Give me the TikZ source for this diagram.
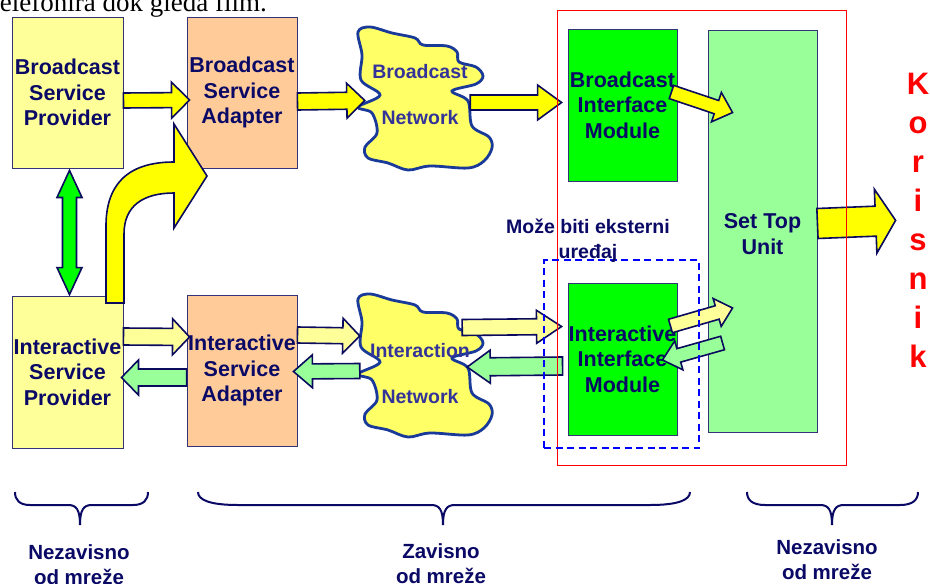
\documentclass[tikz,border=0pt]{standalone}
\usepackage{fontspec}
\setmainfont{Liberation Sans}
\newfontfamily\serifface{Liberation Serif}
\usetikzlibrary{calc}

\definecolor{navy}{HTML}{0A0A66}
\definecolor{boxline}{HTML}{333377}
\definecolor{arrline}{HTML}{0A0A5E}
\definecolor{cloudline}{HTML}{1A3A99}
\definecolor{cloudfill}{HTML}{FFFF66}
\definecolor{cloudtext}{HTML}{333399}
\definecolor{paleyellow}{HTML}{FFFF99}
\definecolor{peach}{HTML}{FFCC99}
\definecolor{brightgreen}{HTML}{00FF00}
\definecolor{palegreen}{HTML}{99FF99}
\definecolor{strongyellow}{HTML}{FFFF00}
\definecolor{framered}{HTML}{FF0000}
\definecolor{dashblue}{HTML}{0000FF}

\tikzset{
  unitbox/.style={draw=boxline, line width=0.9pt, inner sep=0pt, align=center,
    text=navy, font=\fontsize{21.5}{25.5}\selectfont\bfseries},
  unittext/.style={inner sep=0pt, align=center, text=navy,
    font=\fontsize{21.5}{25.5}\selectfont\bfseries},
  cloudshape/.style={fill=cloudfill, draw=cloudline, line width=2.8pt},
  cloudlabel/.style={text=cloudtext, align=center, inner sep=0pt,
    font=\fontsize{19.5}{46}\selectfont\bfseries},
  arrowbase/.style={draw=arrline, line width=1.6pt, line join=miter},
  solidarrow/.style={arrowbase, fill=strongyellow},
  uparrow/.style={arrowbase, fill=paleyellow},
  downarrow/.style={arrowbase, fill=palegreen},
  linkarrow/.style={arrowbase, fill=brightgreen},
  bracket/.style={draw=navy, line width=2pt},
  zonelabel/.style={text=navy, align=center, inner sep=0pt,
    font=\fontsize{20.5}{25}\selectfont\bfseries},
}

% block arrow: style, from, to, shaft half width, head half width, head length
\newcommand\blockarrow[6]{%
  \coordinate (bam) at ($(#3)!#6!(#2)$);
  \filldraw[#1] ($(#2)!#4!90:(#3)$) -- ($(bam)!#4!90:(#3)$) -- ($(bam)!#5!90:(#3)$)
    -- (#3) -- ($(bam)!#5!-90:(#3)$) -- ($(bam)!#4!-90:(#3)$)
    -- ($(#2)!#4!-90:(#3)$) -- cycle;}

% block arrow with a head at each end
\newcommand\doublearrow[6]{%
  \coordinate (dam) at ($(#2)!#6!(#3)$);
  \coordinate (dan) at ($(#3)!#6!(#2)$);
  \filldraw[#1] (#2) -- ($(dam)!#5!90:(#3)$) -- ($(dam)!#4!90:(#3)$)
    -- ($(dan)!#4!90:(#3)$) -- ($(dan)!#5!90:(#3)$) -- (#3)
    -- ($(dan)!#5!-90:(#3)$) -- ($(dan)!#4!-90:(#3)$)
    -- ($(dam)!#4!-90:(#3)$) -- ($(dam)!#5!-90:(#3)$) -- cycle;}

% irregular network cloud, shifted vertically
\newcommand\networkblob[1]{%
  \filldraw[cloudshape, shift={(0,#1)}] plot[smooth cycle, tension=0.55] coordinates {
    (358,32) (370,27) (392,33) (415,38) (423,45) (447,46) (457,52) (459,62)
    (476,67) (483,76) (476,84) (452,91) (468,101) (472,126) (489,137)
    (492,148) (484,161) (468,168) (430,166) (408,170) (388,163) (368,158)
    (365,147) (377,133) (372,113) (358,107) (380,95) (361,80) (362,55)};}

% curly brace under a group of blocks: left, right, middle, corner radius
\newcommand\zonebrace[4]{%
  \draw[bracket] (#1,492) .. controls (#1,500) and ({#1+#4*0.3},505) .. ({#1+#4},505)
    -- ({#3-12},505) .. controls ({#3-4},505) and (#3,509) .. (#3,525)
    .. controls (#3,509) and ({#3+4},505) .. ({#3+12},505)
    -- ({#2-#4},505) .. controls ({#2-#4*0.3},505) and (#2,500) .. (#2,492);}

\begin{document}
\begin{tikzpicture}[x=1pt, y=-1pt]
\useasboundingbox (0,0) rectangle (930,584);
\clip (0,0) rectangle (930,584);
\fill[white] (0,0) rectangle (930,584);

% heading line of the page above
\node[anchor=base east, inner sep=0pt, font=\serifface\fontsize{27}{27}\selectfont] (topline)
  at (267,11) {telefonira dok gleda film.};

% service blocks
\node[unitbox, fill=paleyellow, minimum width=111pt, minimum height=151pt] (bsp) at (67.5,92.5) {Broadcast\\Service\\Provider};
\node[unitbox, fill=peach, minimum width=110pt, minimum height=151pt] (bsa) at (242,92.5) {Broadcast\\Service\\Adapter};
\node[unitbox, fill=paleyellow, minimum width=111pt, minimum height=152pt] (isp) at (67.5,372) {Interactive\\Service\\Provider};
\node[unitbox, fill=peach, minimum width=110pt, minimum height=151pt] (isa) at (242,370.5) {Interactive\\Service\\Adapter};

% terminal blocks
\node[unitbox, fill=brightgreen, minimum width=109pt, minimum height=152pt] (bim) at (622.5,105) {Broadcast\\Interface\\Module};
\node[unitbox, fill=brightgreen, minimum width=109pt, minimum height=152pt] (iim) at (622.5,359) {Interactive\\Interface\\Module};
\node[unitbox, fill=palegreen, minimum width=109pt, minimum height=402pt,
  label={[unittext, yshift=-3pt]center:{Set Top\\Unit}}] (stu) at (762.5,231) {};

% networks
\networkblob{0}
\node[cloudlabel, minimum width=136pt, minimum height=150pt] (bn) at (420,94.5) {Broadcast\\Network};
\networkblob{267}
\node[cloudlabel, minimum width=136pt, minimum height=146pt] (in) at (420,373.5) {Interaction\\Network};

% user column
\node[anchor=north, inner sep=0pt, text=framered, align=center,
  font=\fontsize{31}{39}\selectfont\bfseries] (user) at (918,73) {K\\o\\r\\i\\s\\n\\i\\k};

% arrow end points
\coordinate (a1s) at ($(bsp.east)+(0,8)$);
\coordinate (a1e) at ($(bsa.west)+(3,7.5)$);
\coordinate (a2s) at ($(bsa.east)+(0,9)$);
\coordinate (a2e) at ($(bn.west)+(13,6)$);
\coordinate (a3s) at ($(bn.east)+(-18,8)$);
\coordinate (a3e) at ($(bim.west)+(-6,-2.5)$);
\coordinate (a4s) at ($(bim.east)+(-6,-13)$);
\coordinate (a4e) at ($(stu.north west)+(25,83)$);
\coordinate (a5s) at ($(stu.east)+(0,-7.5)$);
\coordinate (a5e) at ($(user.west)+(-11,0)$);
\coordinate (b1s) at ($(isp.east)+(0,-35.5)$);
\coordinate (b1e) at ($(isa.west)+(3,-33.5)$);
\coordinate (b2s) at ($(isa.west)+(0,7)$);
\coordinate (b2e) at ($(isp.east)+(-2,5.5)$);
\coordinate (b3s) at ($(isa.east)+(0,-35.5)$);
\coordinate (b3e) at ($(in.west)+(8,-37.5)$);
\coordinate (b4s) at ($(in.west)+(8,-2.5)$);
\coordinate (b4e) at ($(isa.east)+(-4,1)$);
\coordinate (b5s) at ($(in.east)+(-26,-46)$);
\coordinate (b5e) at ($(iim.west)+(-6,-32.5)$);
\coordinate (b6s) at ($(iim.west)+(-5,7)$);
\coordinate (b6e) at ($(in.east)+(-21,-6.5)$);
\coordinate (b7s) at ($(iim.east)+(-7,-33)$);
\coordinate (b7e) at ($(stu.west)+(25,77)$);
\coordinate (b8s) at ($(stu.west)+(15,112)$);
\coordinate (b8e) at ($(iim.east)+(-15,1)$);
\coordinate (lka) at ($(bsp.south)+(2,2)$);
\coordinate (lkb) at ($(isp.north)+(2,-1)$);

% broadcast chain
\blockarrow{solidarrow}{a1s}{a1e}{7.5pt}{18pt}{18pt}
\blockarrow{solidarrow}{a2s}{a2e}{8.5pt}{17.5pt}{18pt}
\blockarrow{solidarrow}{a3s}{a3e}{7.5pt}{17.5pt}{24pt}
\blockarrow{solidarrow}{a4s}{a4e}{7pt}{15.5pt}{17pt}
\blockarrow{solidarrow}{a5s}{a5e}{15pt}{32pt}{20pt}

% interaction chain, both directions
\blockarrow{uparrow}{b1s}{b1e}{8.5pt}{18pt}{17pt}
\blockarrow{downarrow}{b2s}{b2e}{8.5pt}{17.5pt}{17pt}
\blockarrow{uparrow}{b3s}{b3e}{8pt}{17.5pt}{17pt}
\blockarrow{downarrow}{b4s}{b4e}{7.5pt}{16.5pt}{19pt}
\blockarrow{uparrow}{b5s}{b5e}{8pt}{16.5pt}{25pt}
\blockarrow{downarrow}{b6s}{b6e}{9pt}{16.5pt}{23pt}
\blockarrow{uparrow}{b7s}{b7e}{7pt}{14.5pt}{16pt}
\blockarrow{downarrow}{b8s}{b8e}{7pt}{15pt}{17pt}

% link between the two providers
\doublearrow{linkarrow}{lka}{lkb}{7pt}{12.5pt}{27pt}

% bent arrow from the interactive provider into the broadcast adapter
\filldraw[solidarrow] (106,303) -- (106,226) .. controls (106,186) and (126,162) .. (174,162)
  -- (174,124) -- (207,176) -- (174,228) -- (174,193)
  .. controls (143,193) and (124,206) .. (124,234) -- (124,303) -- cycle;

% receiver frame and optional external device
\node[draw=framered, line width=0.8pt, inner sep=0pt, minimum width=289pt, minimum height=455pt] (terminal) at (701.5,237.5) {};
\node[draw=dashblue, line width=1.8pt, dash pattern=on 7pt off 4.5pt, inner sep=0pt,
  minimum width=155pt, minimum height=188pt] (external) at (621.5,354) {};
\node[zonelabel, font=\fontsize{19.5}{25}\selectfont\bfseries] (extnote) at (588,240.5) {Može biti eksterni\\uređaj};

% network dependence groups
\zonebrace{15}{148}{80}{15}
\zonebrace{198}{690}{443}{40}
\zonebrace{747}{918}{832}{18}
\node[zonelabel] (zone1) at (79,564.5) {Nezavisno\\od mreže};
\node[zonelabel] (zone2) at (441,563.5) {Zavisno\\od mreže};
\node[zonelabel] (zone3) at (827,560) {Nezavisno\\od mreže};
\end{tikzpicture}
\end{document}
